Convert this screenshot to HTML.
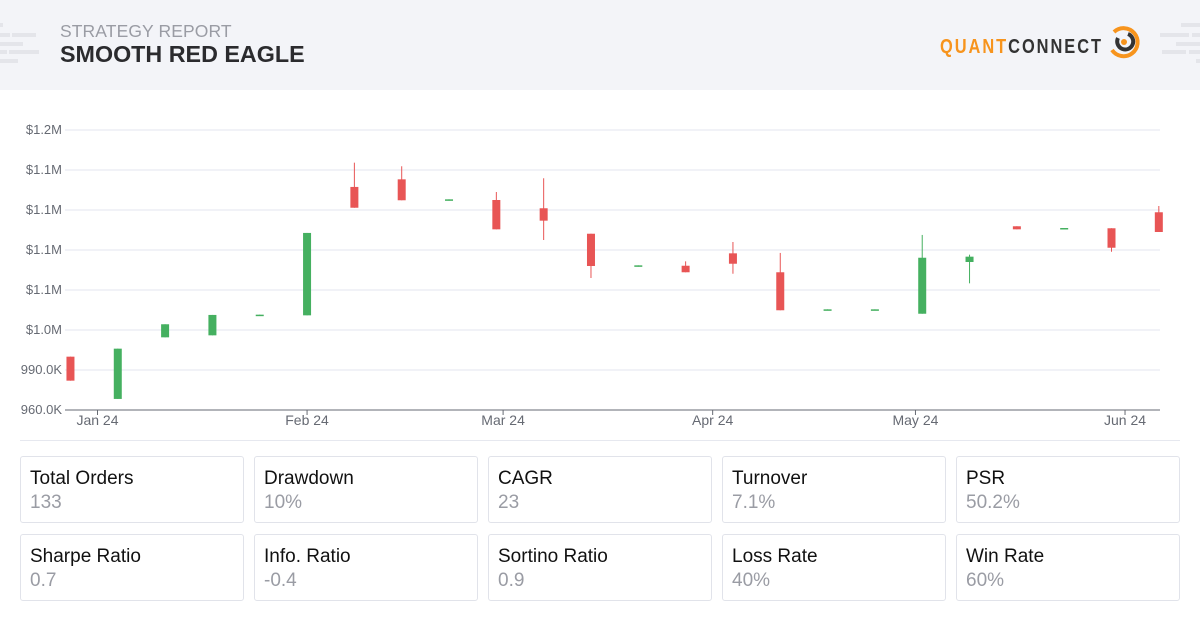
<!DOCTYPE html>
<html><head><meta charset="utf-8"><style>
*{margin:0;padding:0;box-sizing:border-box}
body{width:1200px;height:632px;background:#fff;font-family:"Liberation Sans",sans-serif;position:relative;overflow:hidden}
.hdr{position:absolute;left:0;top:0;width:1200px;height:90px;background:#f3f4f8}
.t1{position:absolute;left:60px;top:21px;font-size:17.5px;color:#9a9ca4;letter-spacing:0.1px}
.t2{position:absolute;left:60px;top:41px;font-size:23.3px;font-weight:bold;color:#2b2b2e}
.deco{position:absolute;background:#e4e5ea;height:4px}
.card{position:absolute;width:224px;height:67px;border:1px solid #e1e3ea;border-radius:3px;background:#fff}
.card .l{position:absolute;left:9px;top:11px;font-size:19px;color:#111}
.card .v{position:absolute;left:9px;top:35px;font-size:19px;color:#9a9ca4}
</style></head><body>
<div class="hdr">
<div class="deco" style="left:0;top:23px;width:3px"></div>
<div class="deco" style="left:0;top:33px;width:10px"></div>
<div class="deco" style="left:12px;top:33px;width:24px"></div>
<div class="deco" style="left:0;top:42px;width:23px"></div>
<div class="deco" style="left:0;top:50px;width:7px"></div>
<div class="deco" style="left:9px;top:50px;width:30px"></div>
<div class="deco" style="left:0;top:59px;width:18px"></div>
<div class="deco" style="left:1181px;top:23px;width:19px"></div>
<div class="deco" style="left:1160px;top:33px;width:29px"></div>
<div class="deco" style="left:1192px;top:33px;width:8px"></div>
<div class="deco" style="left:1176px;top:42px;width:24px"></div>
<div class="deco" style="left:1162px;top:50px;width:24px"></div>
<div class="deco" style="left:1189px;top:50px;width:11px"></div>
<div class="deco" style="left:1196px;top:59px;width:4px"></div>
<div class="t1">STRATEGY REPORT</div>
<div class="t2">SMOOTH RED EAGLE</div>
<div style="position:absolute;left:940px;top:36px;font-size:20px;font-weight:bold;letter-spacing:2.4px;transform:scaleX(0.82);transform-origin:left">
<span style="color:#f7941d">QUANT</span><span style="color:#333">CONNECT</span></div>
<svg style="position:absolute;left:1106px;top:24px" width="36" height="36">
<path d="M8 8 A14 14 0 1 1 6 26" fill="none" stroke="#f7941d" stroke-width="4"/>
<path d="M22 10 A8 8 0 1 1 12 14" fill="none" stroke="#333" stroke-width="4"/>
<circle cx="18" cy="18" r="3" fill="#f7941d"/>
</svg>
</div>
<svg id="chart" width="1200" height="440" style="position:absolute;left:0;top:0"></svg>
<div style="position:absolute;left:20px;top:440px;width:1160px;height:1px;background:#e6e8ef"></div>
<div id="cards"></div>
<script>
const dayOffsets=[-4,3,10,17,24,31,38,45,52,59,66,73,80,87,94,101,108,115,122,129,136,143,150,157];
const opens=[1000.0,968.3,1014.5,1016.0,1030.7,1031.0,1127.3,1133.0,1117.0,1117.5,1111.3,1092.2,1067.5,1068.2,1077.5,1063.3,1034.8,1034.8,1032.2,1071.0,1097.8,1095.5,1096.3,1108.3];
const highs=[1000.0,1006.0,1024.3,1031.3,1031.5,1092.8,1145.5,1142.8,1118.0,1123.5,1133.8,1092.2,1068.5,1071.5,1086.0,1077.8,1035.5,1035.5,1091.3,1076.5,1097.8,1096.5,1096.3,1113.0];
const lows=[982.0,968.3,1014.5,1016.0,1030.7,1031.0,1111.7,1117.3,1117.0,1095.5,1087.5,1059.0,1067.5,1063.3,1062.2,1034.8,1034.8,1034.8,1032.2,1055.0,1095.5,1095.5,1078.7,1093.5];
const closes=[982.0,1006.0,1024.3,1031.3,1031.5,1092.8,1111.7,1117.3,1118.0,1095.5,1102.0,1068.0,1068.5,1063.3,1069.7,1034.8,1035.5,1035.5,1074.2,1075.0,1095.5,1096.5,1081.7,1093.5];
const yTicks=[960,990,1020,1050,1080,1110,1140,1170];
const yTickLabels=["960.0K","990.0K","$1.0M","$1.1M","$1.1M","$1.1M","$1.1M","$1.2M"];
const xTickDays=[0,31,60,91,121,152];
const xTickLabels=["Jan 24","Feb 24","Mar 24","Apr 24","May 24","Jun 24"];
const NS="http://www.w3.org/2000/svg";
const svg=document.getElementById('chart');
const yS=v=>410-(v-960)/30*40;
const xS=d=>97.5+d*6.76;
function mk(t,a){const e=document.createElementNS(NS,t);for(const k in a)e.setAttribute(k,a[k]);svg.appendChild(e);return e;}
yTicks.forEach((v,i)=>{
 const g=mk('line',{x1:65,x2:1160,y1:yS(v),y2:yS(v),stroke:i==0?'#666a73':'#e3e6ef','stroke-width':1});
 
 
 const t=mk('text',{x:62,y:yS(v)+4,'text-anchor':'end','font-size':13,fill:'#666a73','font-family':'Liberation Sans, sans-serif'});
 t.textContent=yTickLabels[i];
 
 
});
xTickDays.forEach((d,i)=>{
 const l=mk('line',{x1:xS(d),x2:xS(d),y1:410,y2:415,stroke:'#666a73'});
 
 
 const t=mk('text',{x:xS(d),y:425,'text-anchor':'middle','font-size':14,fill:'#666a73','font-family':'Liberation Sans, sans-serif'});
 t.textContent=xTickLabels[i];
 
 
});
dayOffsets.forEach((d,i)=>{
 const up=closes[i]>=opens[i];const col=up?'#45b060':'#e85555';const x=xS(d);
 const w=mk('line',{x1:x,x2:x,y1:yS(highs[i]),y2:yS(lows[i]),stroke:col,'stroke-width':1});
 
 
 const top=yS(Math.max(opens[i],closes[i])),bot=yS(Math.min(opens[i],closes[i]));
 const r=mk('rect',{x:x-4,y:top,width:8,height:Math.max(1.5,bot-top),fill:col});
 
 
});
const stats=[["Total Orders","133"],["Drawdown","10%"],["CAGR","23"],["Turnover","7.1%"],["PSR","50.2%"],["Sharpe Ratio","0.7"],["Info. Ratio","-0.4"],["Sortino Ratio","0.9"],["Loss Rate","40%"],["Win Rate","60%"]];
const cards=document.getElementById('cards');
stats.forEach((s,i)=>{
 const c=document.createElement('div');c.className='card';
 c.style.left=(20+(i%5)*234)+'px';c.style.top=(456+Math.floor(i/5)*78)+'px';
 
 
 c.innerHTML='<div class="l">'+s[0]+'</div><div class="v">'+s[1]+'</div>';
 cards.appendChild(c);
});
</script>
</body></html>
